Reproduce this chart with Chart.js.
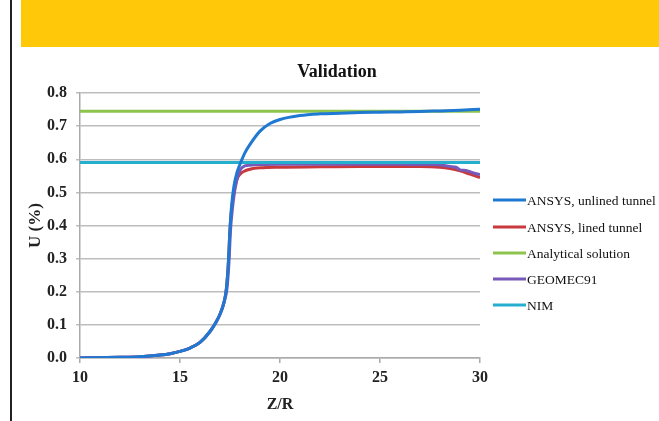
<!DOCTYPE html>
<html>
<head>
<meta charset="utf-8">
<script src="https://cdn.jsdelivr.net/npm/chart.js@4/dist/chart.umd.min.js"></script>
<style>
  html, body { margin:0; padding:0; background:#fff; }
  body { width:659px; height:421px; position:relative; overflow:hidden; }
  #banner { position:absolute; left:21px; top:0; width:638px; height:47px; background:#ffc90a; }
  #vline { position:absolute; left:10px; top:0; width:2px; height:421px; background:#222; }
  #wrap { position:absolute; left:0; top:0; width:659px; height:421px; }
</style>
</head>
<body>
<div id="banner"></div>
<div id="vline"></div>
<div id="wrap"><canvas id="c" width="659" height="421"></canvas></div>
<script>
const chartTitle = "Validation";
const xTitle = "Z/R";
const yTitle = "U (%)";
const seriesNames = ["ANSYS, unlined tunnel", "ANSYS, lined tunnel", "Analytical solution", "GEOMEC91", "NIM"];
const seriesColors = ["#1f78d1", "#c9383c", "#8cc44e", "#7659b8", "#24afcf"];

const zrUnlined = [10, 11, 12, 13, 14, 14.5, 15, 15.5, 16, 16.5, 16.8, 17, 17.2, 17.32, 17.42, 17.5, 17.58, 17.7, 17.85, 18, 18.25, 18.5, 19, 19.5, 20, 21, 22, 23, 24, 25, 26, 27, 28, 29, 30];
const uUnlined  = [0, 0.001, 0.002, 0.004, 0.009, 0.013, 0.02, 0.03, 0.047, 0.08, 0.108, 0.132, 0.168, 0.21, 0.29, 0.39, 0.46, 0.52, 0.56, 0.585, 0.62, 0.645, 0.685, 0.708, 0.72, 0.732, 0.737, 0.739, 0.741, 0.742, 0.743, 0.744, 0.746, 0.748, 0.751];

const zrLined = [10, 11, 12, 13, 14, 14.5, 15, 15.5, 16, 16.5, 16.8, 17, 17.2, 17.32, 17.42, 17.5, 17.58, 17.7, 17.85, 18, 18.25, 18.5, 19, 20, 22, 24, 26, 27, 28, 28.5, 29, 29.5, 30];
const uLined  = [0, 0.001, 0.002, 0.004, 0.009, 0.013, 0.02, 0.03, 0.047, 0.08, 0.108, 0.132, 0.168, 0.21, 0.29, 0.39, 0.45, 0.5, 0.54, 0.555, 0.565, 0.57, 0.574, 0.576, 0.577, 0.578, 0.578, 0.578, 0.576, 0.572, 0.565, 0.555, 0.545];

const zrAnalytical = [10, 30];
const uAnalytical  = [0.745, 0.745];

const zrGeomec = [10, 11, 12, 13, 14, 14.5, 15, 15.5, 16, 16.5, 16.8, 17, 17.2, 17.35, 17.45, 17.53, 17.62, 17.75, 17.9, 18.1, 18.5, 19, 20, 22, 24, 26, 27, 28, 28.5, 28.8, 29, 29.3, 29.6, 30];
const uGeomec  = [0, 0.001, 0.002, 0.004, 0.009, 0.013, 0.02, 0.03, 0.047, 0.08, 0.108, 0.132, 0.168, 0.21, 0.29, 0.39, 0.45, 0.51, 0.55, 0.575, 0.582, 0.584, 0.585, 0.585, 0.585, 0.585, 0.584, 0.583, 0.578, 0.576, 0.568, 0.566, 0.56, 0.553];

const zrNim = [10, 30];
const uNim  = [0.59, 0.59];

const xTicks = [10, 15, 20, 25, 30];
const yTicks = [0, 0.1, 0.2, 0.3, 0.4, 0.5, 0.6, 0.7, 0.8];

function pts(xs, ys) { return xs.map((x, i) => ({ x: x, y: ys[i] })); }

const seriesData = [pts(zrUnlined, uUnlined), pts(zrLined, uLined), pts(zrAnalytical, uAnalytical), pts(zrGeomec, uGeomec), pts(zrNim, uNim)];
const drawOrder = [0, 2, 1, 1, 0];

const serif = "'Liberation Serif', 'Times New Roman', serif";

const overlay = {
  id: 'overlay',
  afterDraw(chart) {
    const ctx = chart.ctx;
    ctx.save();
    ctx.fillStyle = '#111';
    ctx.font = "bold 18px " + serif;
    ctx.textAlign = 'center';
    ctx.textBaseline = 'middle';
    ctx.fillText(chartTitle, 337, 72);
    // legend
    const ys = [200, 227, 253, 279, 305];
    ctx.font = "13.5px " + serif;
    ctx.textAlign = 'left';
    chart.data.datasets.forEach((ds, i) => {
      ctx.strokeStyle = ds.borderColor;
      ctx.lineWidth = 3;
      ctx.beginPath();
      ctx.moveTo(493, ys[i]);
      ctx.lineTo(526, ys[i]);
      ctx.stroke();
      ctx.fillStyle = '#111';
      ctx.fillText(ds.label, 527, ys[i] + 1);
    });
    ctx.restore();
  }
};

new Chart(document.getElementById('c'), {
  type: 'line',
  data: {
    datasets: seriesNames.map((name, i) => ({
      label: name,
      data: seriesData[i],
      borderColor: seriesColors[i],
      backgroundColor: seriesColors[i],
      borderWidth: 3,
      pointRadius: 0,
      fill: false,
      cubicInterpolationMode: 'monotone',
      order: drawOrder[i]
    }))
  },
  options: {
    responsive: false,
    animation: false,
    layout: { padding: { left: 0, right: 179, top: 93, bottom: 0 } },
    plugins: { legend: { display: false }, title: { display: false }, tooltip: { enabled: false } },
    scales: {
      x: {
        type: 'linear', min: 10, max: 30,
        afterBuildTicks: (s) => { s.ticks = xTicks.map(v => ({ value: v })); },
        afterFit: (s) => { s.height = 63; },
        grid: { drawOnChartArea: false, drawTicks: true, tickLength: 5, color: '#aaaaaa', lineWidth: 1.5 },
        border: { display: true, color: '#aaaaaa', width: 1.5 },
        ticks: { padding: 5, color: '#222', font: { family: serif, size: 16, weight: 'bold' } },
        title: { display: true, text: xTitle, color: '#222', padding: { bottom: 7, top: 0 }, font: { family: serif, size: 16, weight: 'bold' } }
      },
      y: {
        type: 'linear', min: 0, max: 0.8,
        afterBuildTicks: (s) => { s.ticks = yTicks.map(v => ({ value: v })); },
        afterFit: (s) => { s.width = 80; },
        grid: { drawOnChartArea: true, drawTicks: true, tickLength: 4, color: '#bdbdbd', lineWidth: 1.5 },
        border: { display: true, color: '#aaaaaa', width: 1.5 },
        ticks: { padding: 9, color: '#222', callback: (v) => Number(v).toFixed(1), font: { family: serif, size: 16, weight: 'bold' } },
        title: { display: true, text: yTitle, color: '#222', padding: { top: 25, bottom: 0 }, font: { family: serif, size: 17, weight: 'bold' } }
      }
    }
  },
  plugins: [overlay]
});
</script>
</body>
</html>
